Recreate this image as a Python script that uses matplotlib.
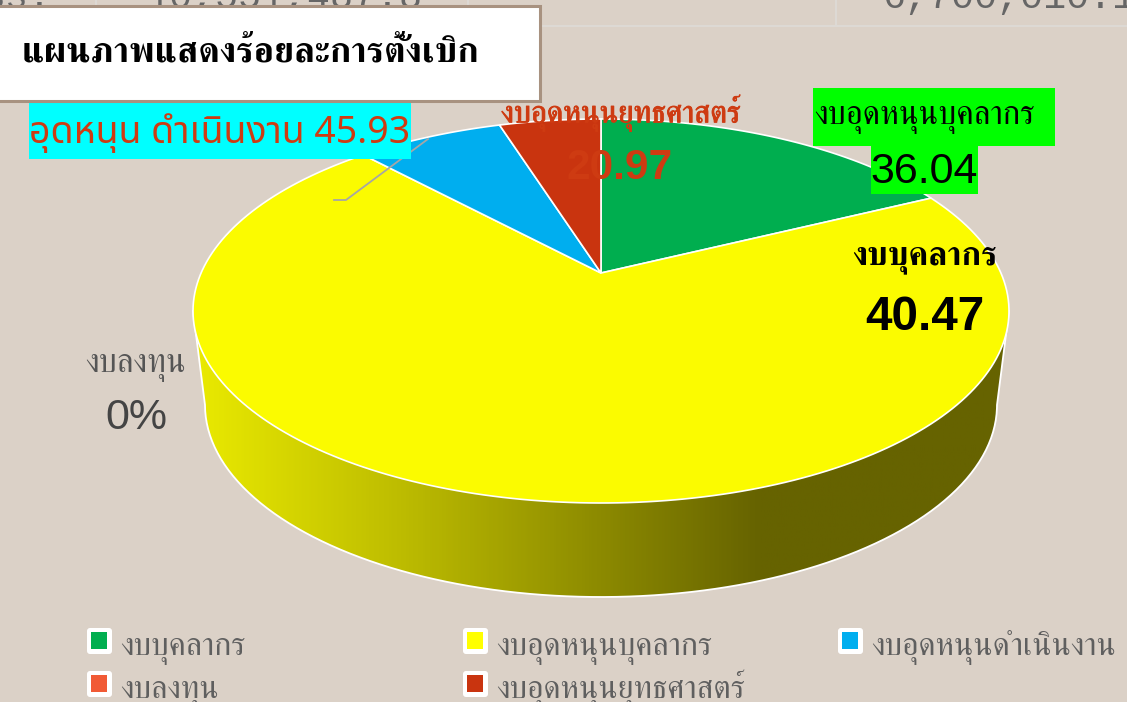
import numpy as np
import matplotlib.pyplot as plt
import matplotlib.patheffects as pe
from matplotlib.colors import LinearSegmentedColormap
from matplotlib.patches import Polygon, Rectangle, FancyBboxPatch

# slice shares (percent of the turn, clockwise from 12 o'clock)
slice_names = ['งบบุคลากร', 'งบอุดหนุนบุคลากร', 'งบอุดหนุนดำเนินงาน', 'งบอุดหนุนยุทธศาสตร์']
slice_shares = [15.0, 75.1, 5.9, 4.0]
slice_colors = ['#00AE4F', '#FBFB00', '#00AEEF', '#C9340F']

legend_names = ['งบบุคลากร', 'งบอุดหนุนบุคลากร', 'งบอุดหนุนดำเนินงาน', 'งบลงทุน', 'งบอุดหนุนยุทธศาสตร์']
legend_colors = ['#00AE4F', '#FFFF00', '#00AEEF', '#F15A35', '#C9340F']

bg = '#DBD1C7'
thai = ['FreeSerif', 'Liberation Sans']
thai_sans = ['Noto Sans Thai', 'DejaVu Sans']
arial = ['Liberation Sans']
mono = ['Liberation Mono']

cx, cy, rx, ry = 601, 311, 408, 192
apex = (601, 273)
bx, by, brx, bry = 601, 405, 396, 192


def rim(a):
    a = np.radians(a)
    return cx + rx * np.sin(a), cy - ry * np.cos(a)


fig = plt.figure(figsize=(11.27, 7.02), dpi=100, facecolor=bg)
ax = fig.add_axes([0, 0, 1, 1])
ax.set_xlim(0, 1127)
ax.set_ylim(702, 0)
ax.axis('off')

# page behind the chart, cut off at the top
ax.plot([0, 1127], [26, 26], color='#DDD9D4', lw=1.5)
for x in [96, 468, 836]:
    ax.plot([x, x], [0, 26], color='#DDD9D4', lw=1.5)
ax.text(-17, 8, 'ss:', fontsize=27.6, color='#666666', family=mono, ha='left', va='baseline')
ax.text(146, 8, '10,551,487.8', fontsize=27.6, color='#666666', family=mono, ha='left', va='baseline')
ax.text(882, 8, '6,700,010.1', fontsize=27.6, color='#666666', family=mono, ha='left', va='baseline')

# side of the pie
t = np.radians(np.linspace(90, 270, 200))
xs_top = cx + rx * np.sin(t)
ys_top = cy - ry * np.cos(t)
xs_bot = bx + brx * np.sin(t)
ys_bot = by - bry * np.cos(t)
side = np.column_stack([np.r_[xs_top, xs_bot[::-1]], np.r_[ys_top, ys_bot[::-1]]])
poly = Polygon(side, closed=True, facecolor='none', edgecolor='none')
ax.add_patch(poly)
cmap = LinearSegmentedColormap.from_list('side', [
    (0.0, '#EAEA00'), (0.254, '#BDBC00'), (0.5, '#8C8A00'), (0.695, '#666300'), (1.0, '#666300')])
im = ax.imshow(np.linspace(0, 1, 400).reshape(1, -1), cmap=cmap, aspect='auto',
               extent=[193, 1009, 600, 300], zorder=1)
ax.set_xlim(0, 1127)
ax.set_ylim(702, 0)
im.set_clip_path(poly)
ax.plot(np.r_[xs_top[-1], xs_bot[::-1], xs_top[0]], np.r_[ys_top[-1], ys_bot[::-1], ys_top[0]],
        color='white', lw=1.3, zorder=2)

# top of the pie
start = 0
for share, color in zip(slice_shares, slice_colors):
    end = start + share * 3.6
    a = np.linspace(start, end, 200)
    px, py = rim(a)
    ax.add_patch(Polygon(np.column_stack([np.r_[apex[0], px], np.r_[apex[1], py]]), closed=True,
                         facecolor=color, edgecolor='white', lw=1.2, zorder=3))
    start = end

# leader line of the blue label
ax.plot([334, 346, 428], [200, 200, 139], color='#A6A6A6', lw=1.3, zorder=4)

# title box
ax.add_patch(Rectangle((-6, 6), 546, 95, facecolor='white', edgecolor='#A89280', lw=2.2, zorder=5))
ax.text(22, 53, 'แผนภาพแสดงร้อยละการตั้งเบิก', fontsize=26.1, weight='bold', family=thai,
        color='black', va='center', ha='left', zorder=6)

# data labels
ax.add_patch(Rectangle((29, 103), 382, 56, facecolor='#00FFFF', edgecolor='none', zorder=4))
ax.text(29, 133, 'อุดหนุน ดำเนินงาน 45.93', fontsize=27, family=thai_sans, color='#CE3B12',
        va='center', ha='left', zorder=6)

red_label = ax.text(621, 113, 'งบอุดหนุนยุทธศาสตร์', fontsize=22.2, family=thai, color='#CE3B12',
                    va='center', ha='center', zorder=6)
red_label.set_path_effects([pe.withStroke(linewidth=0.7, foreground='#CE3B12')])
ax.text(620, 168, '20.97', fontsize=30.5, family=arial, color='#CE3B12', weight='bold',
        va='center', ha='center', zorder=6)

ax.add_patch(Rectangle((813, 88), 242, 58, facecolor='#00FF00', edgecolor='none', zorder=4))
ax.add_patch(Rectangle((871, 146), 107, 48, facecolor='#00FF00', edgecolor='none', zorder=4))
ax.text(814, 119, 'งบอุดหนุนบุคลากร', fontsize=23.5, family=thai, color='black',
        va='center', ha='left', zorder=6)
ax.text(924, 172, '36.04', fontsize=31, family=arial, color='black',
        va='center', ha='center', zorder=6)

ax.text(925, 259, 'งบบุคลากร', fontsize=24, family=thai, color='black', weight='bold',
        va='center', ha='center', zorder=6)
ax.text(925, 317, '40.47', fontsize=34.3, family=arial, color='black', weight='bold',
        va='center', ha='center', zorder=6)

ax.text(136, 367, 'งบลงทุน', fontsize=23.5, family=thai, color='#555555',
        va='center', ha='center', zorder=6)
ax.text(136, 418, '0%', fontsize=31, family=arial, color='#444444',
        va='center', ha='center', zorder=6)

# legend
legend_x = [87, 463, 838, 87, 463]
legend_y = [641, 641, 641, 684, 684]
for x, y, name, color in zip(legend_x, legend_y, legend_names, legend_colors):
    ax.add_patch(FancyBboxPatch((x + 2, y - 11), 21, 22, boxstyle='round,pad=2,rounding_size=3',
                                facecolor='white', edgecolor='none', zorder=4))
    ax.add_patch(Rectangle((x + 4, y - 9), 16, 17, facecolor=color, edgecolor='none', zorder=5))
    ax.text(x + 33, y + 14, name, fontsize=23, family=thai, color='#5F5F5F',
            va='baseline', ha='left', zorder=6)

fig.savefig('out.png', dpi=100)
